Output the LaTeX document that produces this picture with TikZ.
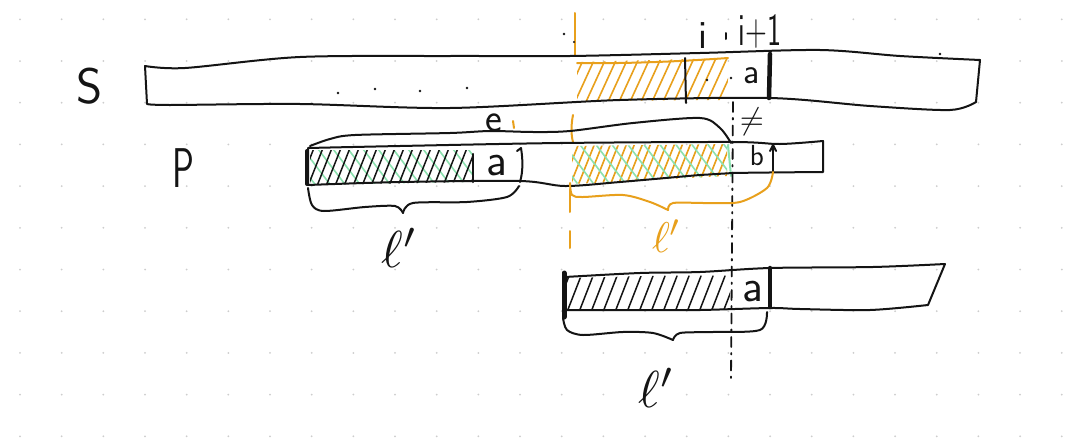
\documentclass[tikz,border=0pt]{standalone}
\usepackage{fontspec}
\usepackage{graphicx}
\definecolor{orng}{RGB}{232,160,28}
\definecolor{grn}{RGB}{140,225,175}
\definecolor{ink}{RGB}{20,20,20}
\definecolor{griddot}{RGB}{205,205,205}
\tikzset{
 pen/.style={draw=ink, line width=2pt, line cap=round, line join=round},
 fatpen/.style={draw=ink, line width=4.5pt, line cap=round},
 opn/.style={draw=orng, line width=2pt, line cap=round, line join=round},
 ohatch/.style={draw=orng, line width=1.6pt, line cap=round},
 khatch/.style={draw=ink, line width=1.5pt, line cap=round},
 ghatch/.style={draw=grn, line width=1.6pt, line cap=round},
 txt/.style={inner sep=0pt, text=ink, font=\sffamily},
 otxt/.style={inner sep=0pt, text=orng, font=\sffamily},
}
\begin{document}
\begin{tikzpicture}[x=1pt,y=-1pt]
\useasboundingbox (0,0) rectangle (1071,442);
\fill[white] (0,0) rectangle (1071,442);
% dot grid
\foreach \i in {0,...,25} \foreach \j in {0,...,10}
  \fill[griddot] ({20+41.67*\i},{19.3+41.7*\j}) circle (1pt);

% ---------- hatching ----------
% S orange
\begin{scope}
 \clip (577,62) -- (728,58) -- (728,100) -- (577,101) -- cycle;
 \foreach \k in {530,541,...,740} \draw[ohatch] (\k,104) -- ++(22,-48);
\end{scope}
\draw[opn] (577,63) .. controls (640,64) and (700,60) .. (728,58);
% P left (black + green)
\begin{scope}
 \clip (310,150) -- (472,150) -- (472,182) -- (310,185) -- cycle;
 \foreach \k in {270,285,...,480} \draw[ghatch] (\k,145) -- ++(32,42);
 \foreach \k in {290,299,...,480} \draw[khatch] (\k,186) -- ++(15,-38);
\end{scope}
% P middle (orange + green)
\begin{scope}
 \clip (572,146) -- (727,144) -- (727,176) -- (572,184) -- cycle;
 \foreach \k in {545,553,...,740} \draw[ohatch] (\k,188) -- ++(18,-45);
 \foreach \k in {530,546,...,740} \draw[ghatch] (\k,142) -- ++(34,45);
\end{scope}
\draw[ghatch, line width=2pt] (728,145) -- (731,176);
% bottom black
\begin{scope}
 \clip (566,278) -- (730,274) -- (730,309) -- (566,310) -- cycle;
 \foreach \k in {555,567,...,740} \draw[khatch] (\k,312) -- ++(14,-36);
\end{scope}

% ---------- guide lines ----------
\draw[opn] (575,13) -- (575,55);
\draw[opn] (573,115) .. controls (571,125) and (571,135) .. (573,142);
\draw[opn] (570,189) -- (570,212);
\draw[opn] (570,231) -- (570,248);
\draw[ink, line width=1.8pt, line cap=round, dash pattern=on 10pt off 6pt on 1.5pt off 6pt] (733,102) -- (731,380);
\fill[ink] (564,34) circle (1.4pt);
\fill[ink] (574,42) circle (1.2pt);

% ---------- S strip ----------
\draw[pen] plot[smooth,tension=0.5] coordinates {(145,66) (185,68) (300,57) (450,56) (570,56) (700,53) (820,50) (900,56) (980,60)}
  -- plot[smooth,tension=0.5] coordinates {(976,102) (950,110) (870,106) (770,98) (620,100) (450,108) (300,104) (170,105) (147,104)} -- cycle;
\draw[pen] (685,58) -- (686,103);
\draw[fatpen] (770,54) -- (769,98);
\foreach \p in {(338,93),(375,89),(420,91),(467,88),(707,80),(731,78),(940,54)}
  \fill[ink] \p circle (1.4pt);
% separator between i and i+1
\draw[pen] (726,33) -- (726,39);

% ---------- P strip ----------
\draw[pen] plot[smooth,tension=0.5] coordinates {(308,148) (400,146) (560,143) (733,142) (780,144) (823,141)}
  -- plot[smooth,tension=0.5] coordinates {(823,172) (733,173) (700,175) (620,182) (565,186) (520,181) (400,182) (308,185)} -- cycle;
\draw[fatpen, line width=4pt] (307,151) -- (307,184);
\draw[pen, line width=2.5pt] (473,154) -- (473,182);
\draw[pen] (517,151) -- (521,148) .. controls (523,160) and (523,172) .. (520,182);
\draw[pen] (773,147) -- (773,172);
\draw[pen] (770,151) -- (773,145) -- (776,151);
% e brace above P
\draw[pen] plot[smooth,tension=0.5] coordinates {(310,146) (330,139) (355,135) (450,133) (490,131) (533,132) (570,131) (633,123) (700,118) (720,128) (731,143)};
\draw[opn] (513,121) -- (514,128);
% brace under P left
\draw[pen] plot[smooth,tension=0.5] coordinates {(308,188) (312,205) (324,211) (365,207) (395,206) (403,213)};
\draw[pen] plot[smooth,tension=0.5] coordinates {(403,213) (413,203) (467,202) (507,197) (519,186)};
% orange brace under P middle
\draw[opn] plot[smooth,tension=0.5] coordinates {(570,183) (572,195) (583,197) (623,195) (650,202) (668,210)};
\draw[opn] plot[smooth,tension=0.5] coordinates {(668,210) (673,203) (707,203) (740,202) (767,188) (773,172)};

% ---------- bottom strip ----------
\draw[pen] plot[smooth,tension=0.5] coordinates {(565,277) (640,273) (700,272) (770,268) (873,267) (945,264)}
  -- plot[smooth,tension=0.5] coordinates {(928,305) (870,310) (800,309) (770,308) (700,310) (640,310) (565,310)} -- cycle;
\draw[fatpen, line width=5pt] (564,273) -- (564,317);
\draw[fatpen] (770,268) -- (770,307);
\draw[pen] plot[smooth,tension=0.5] coordinates {(563,318) (567,330) (583,335) (623,332) (653,333) (673,340)};
\draw[pen] plot[smooth,tension=0.5] coordinates {(673,340) (680,333) (713,332) (760,330) (767,312)};

% ---------- labels ----------
\node[txt, font=\sffamily\fontsize{50}{50}\selectfont] (lS) at (90,86) {S};
\node[txt, xscale=0.65, font=\sffamily\fontsize{56}{56}\selectfont] (lP) at (183,168) {P};
\node[txt, font=\sffamily\fontsize{40}{40}\selectfont] (li) at (703,36) {i};
\node[txt, xscale=0.65, font=\sffamily\fontsize{46}{46}\selectfont] (lip) at (760,32) {i+1};
\node[txt, font=\sffamily\fontsize{36}{36}\selectfont] (aS) at (752,76) {a};
\node[txt] (neq) at (752,122) {\scalebox{3.1}{$\neq$}};
\node[txt, font=\sffamily\fontsize{40}{40}\selectfont] (le) at (494,123) {e};
\node[txt, font=\sffamily\fontsize{46}{46}\selectfont] (aP) at (497,166) {a};
\node[txt, font=\sffamily\fontsize{29}{29}\selectfont] (bP) at (757,156) {b};
\node[txt, font=\sffamily\fontsize{46}{46}\selectfont] (aB) at (753,292) {a};
\node[txt] (l1) at (400,248) {\scalebox{5.2}{$\ell'$}};
\node[otxt] (l2) at (667,236) {\scalebox{4.3}{$\ell'$}};
\node[txt] (l3) at (657,388) {\scalebox{5.2}{$\ell'$}};
\end{tikzpicture}
\end{document}
